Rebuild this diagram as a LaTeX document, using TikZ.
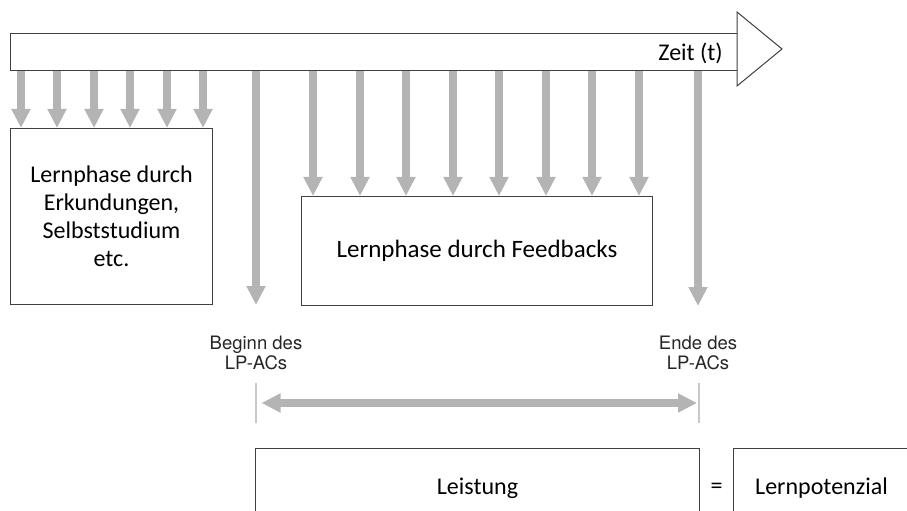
\documentclass[tikz,border=0pt]{standalone}
\usepackage{fontspec}
\setmainfont{Carlito}
\newfontfamily\notefont{TeX Gyre Heros}
\usetikzlibrary{arrows.meta}
\definecolor{arrowgray}{RGB}{180,180,180}
\definecolor{tickgray}{RGB}{200,200,200}
\definecolor{boxline}{RGB}{64,64,64}
\begin{document}
\begin{tikzpicture}[x=1bp,y=-1bp,
    box/.style={draw=boxline,line width=1bp,inner sep=0pt,anchor=north west,align=center,font=\fontsize{24bp}{28bp}\selectfont},
    down/.style={draw=arrowgray,line width=8bp,-{Triangle[width=18bp,length=19bp]}},
    both/.style={draw=arrowgray,line width=8bp,{Triangle[width=18bp,length=19bp]}-{Triangle[width=18bp,length=19bp]}},
    tickline/.style={draw=tickgray,line width=2bp},
    note/.style={align=center,text=black!85,font=\notefont\fontsize{18.5bp}{20bp}\selectfont}]
  \clip (0,0) rectangle (907,511);
  \node[box,minimum width=727bp,minimum height=37bp] (tl) at (10,33) {};
  \draw[draw=boxline,line width=1bp,fill=white] (737,12) -- (782,49) -- (737,86) -- cycle;
  \node[anchor=base east,inner sep=0pt,font=\fontsize{24bp}{28bp}\selectfont] (zeit) at (723,61) {Zeit (t)};
  \node[box,minimum width=202bp,minimum height=176bp] (erk) at (10,128) {Lernphase durch\\Erkundungen,\\Selbststudium\\etc.};
  \node[box,minimum width=351bp,minimum height=109bp,font=\fontsize{25bp}{28bp}\selectfont] (fb) at (301,196) {Lernphase durch Feedbacks};
  \foreach \x [count=\i] in {21,57,94,130,167,203} {
    \coordinate (e\i) at (\x,0);
    \draw[down] (tl.south -| e\i) -- (erk.north -| e\i);
  }
  \foreach \x [count=\i] in {313,360,406,453,499,546,592,639} {
    \coordinate (f\i) at (\x,0);
    \draw[down] (tl.south -| f\i) -- (fb.north -| f\i);
  }
  \coordinate (lb) at (256,0);
  \coordinate (le) at (698,0);
  \draw[down] (tl.south -| lb) -- (erk.south -| lb);
  \draw[down] (tl.south -| le) -- (fb.south -| le);
  \node[note] (beg) at (256,353) {Beginn des\\LP-ACs};
  \node[note] (end) at (698,353) {Ende des\\LP-ACs};
  \coordinate (ta) at (255.5,403);
  \coordinate (tb) at (699,403);
  \draw[tickline] ([yshift=20bp]ta) -- ([yshift=-20bp]ta);
  \draw[tickline] ([yshift=20bp]tb) -- ([yshift=-20bp]tb);
  \draw[both] ([xshift=6bp]ta) -- ([xshift=-2bp]tb);
  \node[box,minimum width=444bp,minimum height=80bp] (leis) at (255,448) {Leistung};
  \node[box,minimum width=176bp,minimum height=80bp] (lp) at (733,448) {Lernpotenzial};
  \path (leis.east) -- (lp.west) node[midway,font=\fontsize{24bp}{28bp}\selectfont] (eq) {=};
\end{tikzpicture}
\end{document}
